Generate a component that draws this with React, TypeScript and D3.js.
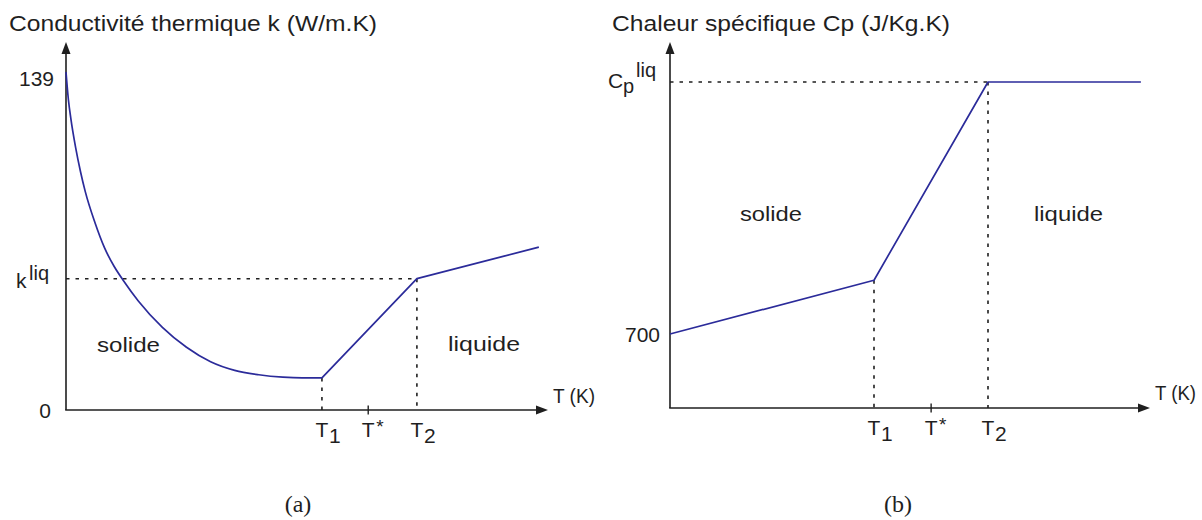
import React from 'react';
import * as d3 from 'd3';

// ---------- data ----------
// (a) thermal conductivity k (W/m.K) vs normalised temperature
const kSolidT = [0, 0.005, 0.01, 0.02, 0.03, 0.04, 0.06, 0.08, 0.10, 0.12, 0.15, 0.20, 0.25, 0.30, 0.35, 0.40, 0.45, 0.49, 0.531];
const kSolidK = [139, 127.6, 119.9, 107.9, 98.1, 89.8, 77.1, 66.65, 59.0, 52.95, 44.85, 34.0, 25.8, 19.85, 16.3, 14.5, 13.5, 13.2, 13.2];
const kLineT = [0.531, 0.728, 0.981];
const kLineK = [13.2, 54, 67];
const kLiq = 54;
const kMax = 139;
const kTicks = [0.531, 0.627, 0.728];

// (b) specific heat Cp (J/Kg.K)
const cpT = [0, 0.425, 0.6625, 0.981];
const cpV = [700, 764, 1000, 1000];
const cpLiq = 1000;
const cpMin = 700;
const cpTicks = [0.425, 0.544, 0.6625];

const tickNames = ['T', 'T', 'T'];
const tickSubs = ['1', '', '2'];
const tickSups = ['', '*', ''];

// ---------- style ----------
const SANS = "'Liberation Sans', Arial, sans-serif";
const SERIF = "'Liberation Serif', 'DejaVu Serif', serif";
const INK = '#1f1f1f';
const BLUE = '#2b2b9a';

type Pt = [number, number];

function Arrows({ x0, y0, xEnd, yTop }: { x0: number; y0: number; xEnd: number; yTop: number }) {
  return (
    <g>
      <line x1={x0} y1={y0} x2={x0} y2={yTop + 8} stroke={INK} strokeWidth={1.6} />
      <polygon points={`${x0},${yTop} ${x0 - 4.5},${yTop + 12} ${x0 + 4.5},${yTop + 12}`} fill={INK} />
      <line x1={x0 - 0.8} y1={y0} x2={xEnd - 8} y2={y0} stroke={INK} strokeWidth={1.6} />
      <polygon points={`${xEnd},${y0} ${xEnd - 12},${y0 - 4.5} ${xEnd - 12},${y0 + 4.5}`} fill={INK} />
    </g>
  );
}

function TickLabels({ xs, y0, x }: { xs: number[]; y0: number; x: d3.ScaleLinear<number, number> }) {
  return (
    <g fill={INK} fontFamily={SANS} fontSize={21}>
      {xs.map((t, i) => {
        const px = x(t);
        return (
          <g key={i}>
            {tickSups[i] ? <line x1={px} x2={px} y1={y0 - 4.5} y2={y0 + 4.5} stroke={INK} strokeWidth={1.4} /> : null}
            <text x={px} y={y0 + 27} textAnchor="middle">{tickNames[i]}</text>
            {tickSubs[i] ? <text x={px + 7} y={y0 + 33}>{tickSubs[i]}</text> : null}
            {tickSups[i] ? <text x={px + 8} y={y0 + 23} fontSize={19}>{tickSups[i]}</text> : null}
          </g>
        );
      })}
    </g>
  );
}

function PanelA() {
  const x0 = 66, y0 = 410, xEnd = 548, yTop = 42;
  const x = d3.scaleLinear().domain([0, 1]).range([x0, xEnd]);
  const y = d3.scaleLinear().domain([0, kMax]).range([y0, 72]);
  const solid: Pt[] = kSolidT.map((t, i) => [t, kSolidK[i]]);
  const lin: Pt[] = kLineT.map((t, i) => [t, kLineK[i]]);
  const curve = d3.line<Pt>().x(d => x(d[0])).y(d => y(d[1])).curve(d3.curveMonotoneX);
  const straight = d3.line<Pt>().x(d => x(d[0])).y(d => y(d[1]));
  const dash = '3.5,6';
  return (
    <g>
      <text x={9} y={31} fontFamily={SANS} fontSize={22} fill={INK} textLength={368} lengthAdjust="spacingAndGlyphs">
        Conductivité thermique k (W/m.K)
      </text>
      <line x1={x0} x2={x(kLineT[1])} y1={y(kLiq)} y2={y(kLiq)} stroke={INK} strokeWidth={1.6} strokeDasharray={dash} />
      <line x1={x(kLineT[0])} x2={x(kLineT[0])} y1={y(kLineK[0])} y2={y0} stroke={INK} strokeWidth={1.6} strokeDasharray={dash} />
      <line x1={x(kLineT[1])} x2={x(kLineT[1])} y1={y(kLineK[1])} y2={y0} stroke={INK} strokeWidth={1.6} strokeDasharray={dash} />
      <Arrows x0={x0} y0={y0} xEnd={xEnd} yTop={yTop} />
      <path d={curve(solid) || ''} fill="none" stroke={BLUE} strokeWidth={1.7} />
      <path d={straight(lin) || ''} fill="none" stroke={BLUE} strokeWidth={1.7} strokeLinejoin="round" />
      <g fontFamily={SANS} fontSize={21} fill={INK}>
        <text x={54} y={y(kMax) + 14} textAnchor="end">{kMax}</text>
        <text x={51} y={y0 + 8} textAnchor="end">0</text>
        <text x={16} y={y(kLiq) + 9}>k</text>
        <text x={29} y={y(kLiq) + 1} fontSize={20}>liq</text>
        <text x={97} y={352} textLength={63} lengthAdjust="spacingAndGlyphs">solide</text>
        <text x={448} y={351} textLength={72} lengthAdjust="spacingAndGlyphs">liquide</text>
        <text x={553} y={403} textLength={42} lengthAdjust="spacingAndGlyphs">T (K)</text>
      </g>
      <TickLabels xs={kTicks} y0={y0} x={x} />
      <text x={298} y={512} textAnchor="middle" fontFamily={SERIF} fontSize={24} fill={INK}>(a)</text>
    </g>
  );
}

function PanelB() {
  const x0 = 670, y0 = 408, xEnd = 1150, yTop = 42;
  const x = d3.scaleLinear().domain([0, 1]).range([x0, xEnd]);
  const y = d3.scaleLinear().domain([cpMin, cpLiq]).range([334, 82]);
  const pts: Pt[] = cpT.map((t, i) => [t, cpV[i]]);
  const straight = d3.line<Pt>().x(d => x(d[0])).y(d => y(d[1]));
  const dash = '3.5,6';
  return (
    <g>
      <text x={612} y={31} fontFamily={SANS} fontSize={22} fill={INK} textLength={338} lengthAdjust="spacingAndGlyphs">
        Chaleur spécifique Cp (J/Kg.K)
      </text>
      <line x1={x0} x2={x(cpT[2])} y1={y(cpLiq)} y2={y(cpLiq)} stroke={INK} strokeWidth={1.6} strokeDasharray={dash} />
      <line x1={x(cpT[1])} x2={x(cpT[1])} y1={y(cpV[1])} y2={y0} stroke={INK} strokeWidth={1.6} strokeDasharray={dash} />
      <line x1={x(cpT[2])} x2={x(cpT[2])} y1={y(cpV[2])} y2={y0} stroke={INK} strokeWidth={1.6} strokeDasharray={dash} />
      <Arrows x0={x0} y0={y0} xEnd={xEnd} yTop={yTop} />
      <path d={straight(pts) || ''} fill="none" stroke={BLUE} strokeWidth={1.7} strokeLinejoin="round" />
      <g fontFamily={SANS} fontSize={21} fill={INK}>
        <text x={660} y={y(cpMin) + 8} textAnchor="end">{cpMin}</text>
        <text x={608} y={y(cpLiq) + 6}>C</text>
        <text x={623} y={y(cpLiq) + 11} fontSize={20}>p</text>
        <text x={636} y={y(cpLiq) - 5} fontSize={20}>liq</text>
        <text x={740} y={221} textLength={62} lengthAdjust="spacingAndGlyphs">solide</text>
        <text x={1034} y={221} textLength={69} lengthAdjust="spacingAndGlyphs">liquide</text>
        <text x={1155} y={400} textLength={41} lengthAdjust="spacingAndGlyphs">T (K)</text>
      </g>
      <TickLabels xs={cpTicks} y0={y0} x={x} />
      <text x={898} y={512} textAnchor="middle" fontFamily={SERIF} fontSize={24} fill={INK}>(b)</text>
    </g>
  );
}

export default function App() {
  return (
    <svg
      width={1202}
      height={520}
      viewBox="0 0 1202 520"
      style={{ position: 'absolute', left: 0, top: 0, background: '#fff' }}
    >
      <rect width={1202} height={520} fill="#fff" />
      <PanelA />
      <PanelB />
    </svg>
  );
}
